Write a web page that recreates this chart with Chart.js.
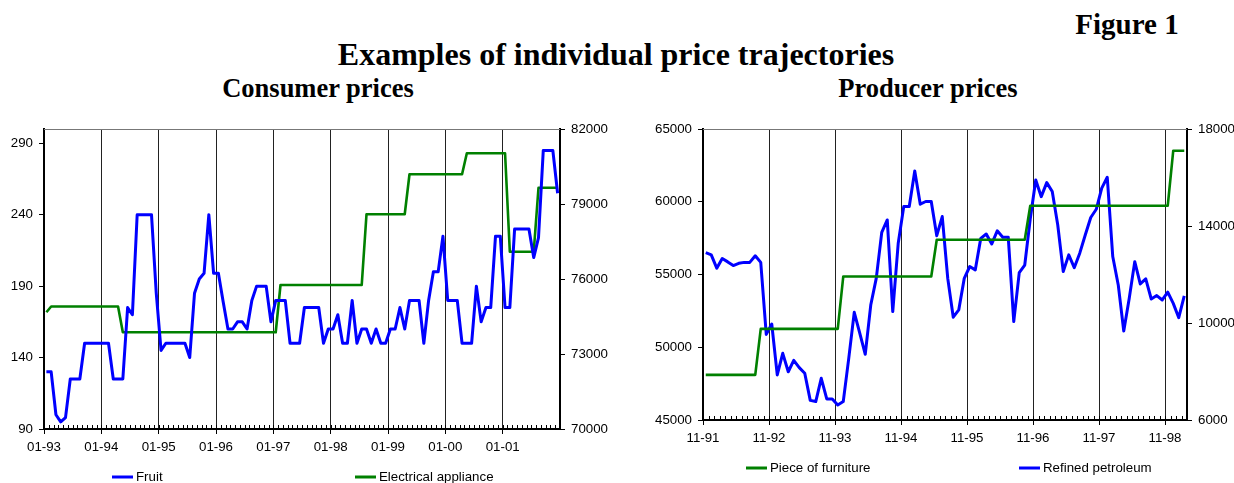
<!DOCTYPE html>
<html>
<head>
<meta charset="utf-8">
<script src="https://cdn.jsdelivr.net/npm/chart.js@4.4.0/dist/chart.umd.min.js"></script>
<style>
  body { margin: 0; width: 1234px; height: 483px; background: #fff; position: relative; overflow: hidden; }
  .t { position: absolute; font-family: "Liberation Serif", "Times New Roman", serif; font-weight: bold; line-height: 1; white-space: nowrap; color: #000; text-align: center; }
  #fig { left: 1060px; width: 134px; top: 10px; font-size: 29px; }
  #main { left: 300px; width: 632px; top: 38px; font-size: 32px; }
  #sub1 { left: 168px; width: 300px; top: 75px; font-size: 26.5px; }
  #sub2 { left: 778px; width: 300px; top: 75px; font-size: 26.5px; }
  .box { position: absolute; top: 110px; height: 373px; }
  #b1 { left: 0; width: 620px; }
  #b2 { left: 620px; width: 614px; }
</style>
</head>
<body>
<div class="t" id="fig">Figure 1</div>
<div class="t" id="main">Examples of individual price trajectories</div>
<div class="t" id="sub1">Consumer prices</div>
<div class="t" id="sub2">Producer prices</div>
<div class="box" id="b1"><canvas id="consumer" width="620" height="373"></canvas></div>
<div class="box" id="b2"><canvas id="producer" width="614" height="373"></canvas></div>

<script>
// ---- consumer prices, monthly from 01-93 ----
const consumerYears = ["01-93", "01-94", "01-95", "01-96", "01-97", "01-98", "01-99", "01-00", "01-01"];
const fruit = [
  130, 130, 100, 95, 98, 125, 125, 125, 150, 150, 150, 150,
  150, 150, 125, 125, 125, 175, 170, 240, 240, 240, 240, 185,
  145, 150, 150, 150, 150, 150, 140, 185, 195, 199, 240, 199,
  199, 179, 160, 160, 165, 165, 160, 180, 190, 190, 190, 165,
  180, 180, 180, 150, 150, 150, 175, 175, 175, 175, 150, 160,
  160, 170, 150, 150, 180, 150, 160, 160, 150, 160, 150, 150,
  160, 160, 175, 160, 180, 180, 180, 150, 180, 200, 200, 225,
  180, 180, 180, 150, 150, 150, 190, 165, 175, 175, 225, 225,
  175, 175, 230, 230, 230, 230, 210, 224, 285, 285, 285, 255
];
const electricalAppliance = [
  74670, 74900, 74900, 74900, 74900, 74900, 74900, 74900, 74900, 74900, 74900, 74900,
  74900, 74900, 74900, 74900, 73870, 73870, 73870, 73870, 73870, 73870, 73870, 73870,
  73870, 73870, 73870, 73870, 73870, 73870, 73870, 73870, 73870, 73870, 73870, 73870,
  73870, 73870, 73870, 73870, 73870, 73870, 73870, 73870, 73870, 73870, 73870, 73870,
  73870, 75760, 75760, 75760, 75760, 75760, 75760, 75760, 75760, 75760, 75760, 75760,
  75760, 75760, 75760, 75760, 75760, 75760, 75760, 78590, 78590, 78590, 78590, 78590,
  78590, 78590, 78590, 78590, 80190, 80190, 80190, 80190, 80190, 80190, 80190, 80190,
  80190, 80190, 80190, 80190, 81030, 81030, 81030, 81030, 81030, 81030, 81030, 81030,
  81030, 77090, 77090, 77090, 77090, 77090, 77090, 79650, 79650, 79650, 79650, 79650
];
const fruitTicks = [90, 140, 190, 240, 290];
const applianceTicks = [70000, 73000, 76000, 79000, 82000];

// ---- producer prices, monthly from 11-91 ----
const producerYears = ["11-91", "11-92", "11-93", "11-94", "11-95", "11-96", "11-97", "11-98"];
const furniture = [
  48100, 48100, 48100, 48100, 48100, 48100, 48100, 48100, 48100, 48100, 51260, 51260,
  51260, 51260, 51260, 51260, 51260, 51260, 51260, 51260, 51260, 51260, 51260, 51260,
  51260, 54860, 54860, 54860, 54860, 54860, 54860, 54860, 54860, 54860, 54860, 54860,
  54860, 54860, 54860, 54860, 54860, 54860, 57390, 57390, 57390, 57390, 57390, 57390,
  57390, 57390, 57390, 57390, 57390, 57390, 57390, 57390, 57390, 57390, 57390, 59730,
  59730, 59730, 59730, 59730, 59730, 59730, 59730, 59730, 59730, 59730, 59730, 59730,
  59730, 59730, 59730, 59730, 59730, 59730, 59730, 59730, 59730, 59730, 59730, 59730,
  59730, 63510, 63510, 63510
];
const petroleum = [
  12900, 12810, 12260, 12660, 12520, 12370, 12460, 12500, 12500, 12770, 12500, 9530,
  9960, 7860, 8750, 7990, 8460, 8160, 7930, 6810, 6760, 7720, 6870, 6870,
  6620, 6760, 8540, 10440, 9580, 8710, 10740, 11840, 13740, 14250, 10470, 13300,
  14800, 14800, 16270, 14900, 15010, 15010, 13600, 14390, 11840, 10240, 10540, 11840,
  12330, 12190, 13490, 13670, 13260, 13800, 13540, 13540, 10060, 12080, 12390, 14300,
  15900, 15210, 15790, 15420, 14040, 12120, 12810, 12280, 12880, 13630, 14350, 14690,
  15560, 16010, 12740, 11570, 9670, 11020, 12530, 11610, 11820, 10990, 11130, 10950,
  11270, 10810, 10220, 11120
];
const furnitureTicks = [45000, 50000, 55000, 60000, 65000];
const petroleumTicks = [6000, 10000, 14000, 18000];

const BLUE = "#0000ff";
const GREEN = "#008000";

Chart.defaults.font.family = '"Liberation Sans", Arial, sans-serif';
Chart.defaults.font.size = 13.3;
Chart.defaults.color = "#000";

// monthly points placed mid-month
const monthly = arr => arr.map((v, i) => ({ x: i + 0.5, y: v }));

// top frame line + small monthly ticks on the time axis
const frame = {
  id: "frame",
  afterDraw(chart) {
    const { ctx, chartArea: a, scales: { x } } = chart;
    ctx.save();
    ctx.strokeStyle = "#777";
    ctx.lineWidth = 1;
    ctx.beginPath();
    ctx.moveTo(a.left, a.top + 0.5);
    ctx.lineTo(a.right, a.top + 0.5);
    ctx.stroke();
    ctx.strokeStyle = "#000";
    ctx.beginPath();
    for (let m = Math.ceil(x.min); m <= x.max; m++) {
      const px = Math.round(x.getPixelForValue(m)) + 0.5;
      ctx.moveTo(px, a.bottom);
      ctx.lineTo(px, a.bottom - 4);
    }
    ctx.stroke();
    ctx.restore();
  }
};

// wide-spaced legend like the original
const spreadLegend = {
  id: "spreadLegend",
  afterDraw(chart, args, opts) {
    const ctx = chart.ctx;
    ctx.save();
    ctx.font = '13.3px "Liberation Sans", Arial, sans-serif';
    ctx.textBaseline = "middle";
    chart.data.datasets.forEach((ds, i) => {
      const x = opts.x[i];
      ctx.strokeStyle = ds.borderColor;
      ctx.lineWidth = 3;
      ctx.beginPath();
      ctx.moveTo(x, opts.y);
      ctx.lineTo(x + 21, opts.y);
      ctx.stroke();
      ctx.fillStyle = "#000";
      ctx.fillText(ds.label, x + 24, opts.y);
    });
    ctx.restore();
  }
};

function timeAxis(maxMonths, labels, height) {
  return {
    type: "linear",
    min: 0,
    max: maxMonths,
    afterBuildTicks: s => { s.ticks = labels.map((_, k) => ({ value: k * 12 })); },
    afterFit: s => { s.height = height; },
    ticks: { callback: (v, i) => labels[i], padding: 5, maxRotation: 0 },
    grid: { color: "#222", lineWidth: 1, tickLength: 5, tickColor: "#000" },
    border: { color: "#000", width: 2 }
  };
}

function valueAxis(pos, min, max, tickVals, width) {
  return {
    type: "linear",
    position: pos,
    min: min,
    max: max,
    afterBuildTicks: s => { s.ticks = tickVals.map(v => ({ value: v })); },
    afterFit: s => { s.width = width; },
    ticks: { callback: v => String(v), padding: 6 },
    grid: { drawOnChartArea: false, tickLength: 5, tickColor: "#000" },
    border: { color: "#000", width: 2 }
  };
}

const lineStyle = { pointRadius: 0, tension: 0, borderJoinStyle: "round", fill: false };

new Chart(document.getElementById("consumer"), {
  type: "line",
  data: {
    datasets: [
      { label: "Fruit", data: monthly(fruit), yAxisID: "y", borderColor: BLUE, borderWidth: 3, ...lineStyle },
      { label: "Electrical appliance", data: monthly(electricalAppliance), yAxisID: "y1", borderColor: GREEN, borderWidth: 2.6, ...lineStyle }
    ]
  },
  options: {
    responsive: false,
    animation: false,
    devicePixelRatio: 1,
    layout: { padding: { top: 19, left: 0, right: 0, bottom: 0 } },
    scales: {
      x: timeAxis(108, consumerYears, 54),
      y: valueAxis("left", 90, 300, fruitTicks, 44),
      y1: valueAxis("right", 70000, 82000, applianceTicks, 60)
    },
    plugins: {
      legend: { display: false },
      tooltip: { enabled: false },
      spreadLegend: { x: [112, 355], y: 367 }
    }
  },
  plugins: [frame, spreadLegend]
});

new Chart(document.getElementById("producer"), {
  type: "line",
  data: {
    datasets: [
      { label: "Piece of furniture", data: monthly(furniture), yAxisID: "y", borderColor: GREEN, borderWidth: 2.6, ...lineStyle },
      { label: "Refined petroleum", data: monthly(petroleum), yAxisID: "y1", borderColor: BLUE, borderWidth: 3, ...lineStyle }
    ]
  },
  options: {
    responsive: false,
    animation: false,
    devicePixelRatio: 1,
    layout: { padding: { top: 19, left: 0, right: 0, bottom: 0 } },
    scales: {
      x: timeAxis(88, producerYears, 63),
      y: valueAxis("left", 45000, 65000, furnitureTicks, 83),
      y1: valueAxis("right", 6000, 18000, petroleumTicks, 47)
    },
    plugins: {
      legend: { display: false },
      tooltip: { enabled: false },
      spreadLegend: { x: [126, 399], y: 358 }
    }
  },
  plugins: [frame, spreadLegend]
});
</script>
</body>
</html>
